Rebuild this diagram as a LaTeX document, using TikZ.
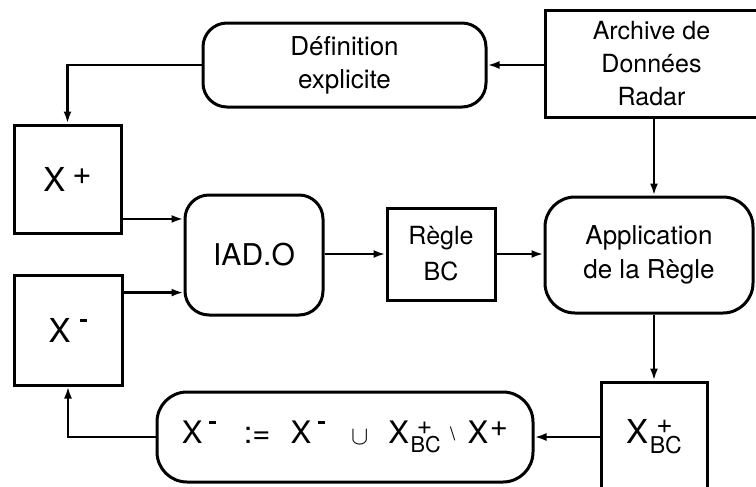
\documentclass[tikz,border=0pt]{standalone}
\usepackage{fontspec}
\setmainfont{TeX Gyre Heros}
\usetikzlibrary{arrows.meta,calc}

% X avec exposant / indice
\newcommand{\xplus}[1][0.21em]{X\kern#1\raisebox{0.21em}{+}}
\newcommand{\xminus}[1][0.3em]{X\kern#1\raisebox{0.62em}{\rule{0.21em}{0.09em}}}
\newcommand{\xbc}{X\kern0.05em\rlap{\kern0.2em\raisebox{0.3em}{\scalebox{0.85}{+}}}\raisebox{-0.31em}{\scalebox{0.7}{BC}}}

\begin{document}
\begin{tikzpicture}[x=0.5pt,y=-0.5pt,
  box/.style={draw,line width=1.5pt,inner sep=0pt,align=center},
  rbox/.style={box,rounded corners=12pt},
  txt/.style={font=\fontsize{13}{16.5}\selectfont},
  big/.style={font=\fontsize{16.5}{19}\selectfont},
  flow/.style={line width=1.4pt,-{Latex[length=6pt,width=4pt]}}]
\useasboundingbox (0,0) rectangle (756,487);

% boites du haut
\node[rbox,txt,minimum width=141.5pt,minimum height=42pt] (def) at (344.5,65) {Définition\\explicite};
\node[box,txt,font=\fontsize{12.5}{16.5}\selectfont,minimum width=106.5pt,minimum height=53.5pt] (arch) at (651.5,63.5) {Archive de\\Données\\Radar};

% ligne du milieu
\node[box,big,minimum width=53.5pt,minimum height=54pt] (xp) at (67.5,179) {\xplus};
\node[box,big,minimum width=54pt,minimum height=55pt] (xm) at (68,330) {\xminus};
\node[rbox,font=\fontsize{15}{18}\selectfont,minimum width=69pt,minimum height=60pt] (iad) at (254,255) {IAD.O};
\node[box,font=\fontsize{12.5}{18}\selectfont,minimum width=54pt,minimum height=46pt] (regle) at (441,254) {Règle\\BC};
\node[rbox,rounded corners=15pt,font=\fontsize{13}{17}\selectfont,minimum width=104pt,minimum height=58pt] (app) at (649,255) {Application\\de la Règle};

% ligne du bas
\node[box,big,minimum width=53pt,minimum height=55pt] (xbc) at (654,437) {\xbc};
\node[rbox,rounded corners=15pt,font=\fontsize{15.5}{18}\selectfont,minimum width=188pt,minimum height=45pt] (upd) at (345,437)
  {\xminus[0.22em]\hspace{0.9em}:=\hspace{0.65em}\xminus[0.22em]\hspace{0.85em}\raisebox{-0.03em}{\scalebox{0.9}{$\cup$}}\hspace{0.65em}\xbc\hspace{0.3em}\raisebox{0.08em}{\scalebox{0.6}{\textbackslash}}\hspace{0.4em}\xplus[0.05em]};

% fleches
\draw[flow] (arch.west |- def.east) -- (def.east);
\draw[flow] (def.west) -| (xp.north);
\draw[flow] (xp.-36) -- (xp.-36 -| iad.west);
\draw[flow] (xm.34) -- (xm.34 -| iad.west);
\draw[flow] (iad.east |- regle.west) -- (regle.west);
\draw[flow] (regle.east) -- (regle.east -| app.west);
\draw[flow] (arch.south -| xbc.north) -- (app.north -| xbc.north);
\draw[flow] (app.south -| xbc.north) -- (xbc.north);
\draw[flow] (xbc.west) -- (xbc.west -| upd.east);
\draw[flow] (upd.west) -| (xm.south);
\end{tikzpicture}
\end{document}
